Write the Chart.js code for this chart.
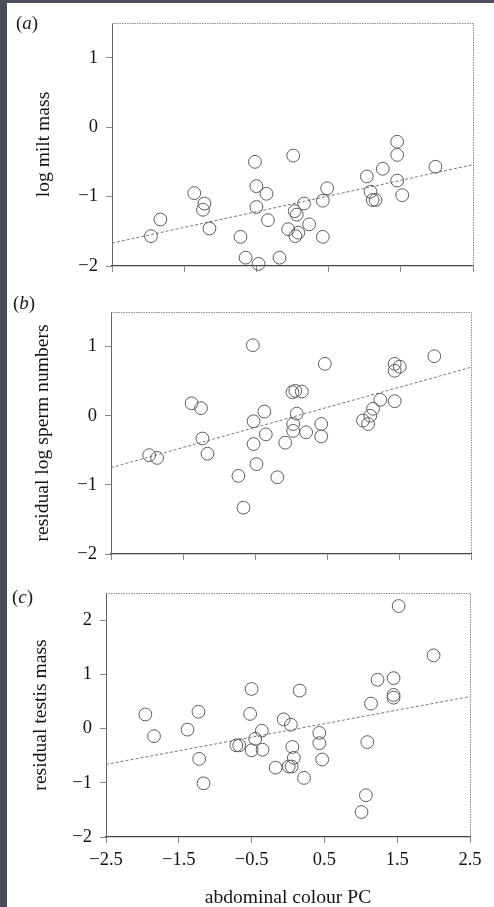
<!DOCTYPE html>
<html>
<head>
<meta charset="utf-8">
<script src="https://cdn.jsdelivr.net/npm/chart.js@4.4.1/dist/chart.umd.min.js"></script>
<style>
  html, body { margin: 0; padding: 0; width: 494px; height: 907px; overflow: hidden; background: #fff; }
  canvas { position: absolute; left: 0; }
  .tag { position: absolute; font: 19px "Liberation Serif", "Times New Roman", serif; line-height: 1; color: #1a1a1a; }
  .edge { position: absolute; background: #4a4e5c; }
</style>
</head>
<body>
<canvas id="panelA" width="494" height="290" style="top:0px"></canvas>
<canvas id="panelB" width="494" height="290" style="top:290px"></canvas>
<canvas id="panelC" width="494" height="330" style="top:580px"></canvas>

<div class="tag" style="left:16px;top:13px">(<i>a</i>)</div>
<div class="tag" style="left:13px;top:293px">(<i>b</i>)</div>
<div class="tag" style="left:12px;top:587px">(<i>c</i>)</div>

<div class="edge" style="left:0;top:0;width:7px;height:907px"></div>
<div class="edge" style="left:0;top:0;width:494px;height:3px"></div>

<script>
// (a) abdominal colour PC vs log milt mass
const colourPcA = [-1.96, -1.83, -1.36, -1.22, -1.24, -1.15, -0.72, -0.65, -0.52, -0.50, -0.36, -0.50,
                   -0.47, -0.34, -0.18, -0.06, 0.01, 0.03, 0.06, 0.04, 0.08, 0.16, 0.23, 0.42,
                   0.48, 0.42, 1.03, 1.08, 1.11, 1.15, 1.25, 1.45, 1.45, 1.45, 1.52, 1.98];
const logMiltMass = [-1.57, -1.33, -0.95, -1.10, -1.19, -1.46, -1.58, -1.88, -0.50, -0.85, -0.96, -1.15,
                     -1.97, -1.34, -1.88, -1.47, -0.41, -1.21, -1.26, -1.57, -1.52, -1.10, -1.40, -1.06,
                     -0.88, -1.58, -0.71, -0.93, -1.05, -1.05, -0.60, -0.21, -0.40, -0.77, -0.98, -0.57];

// (b) abdominal colour PC vs residual log sperm numbers
const colourPcB = [-1.97, -1.86, -1.38, -1.25, -1.23, -1.16, -0.73, -0.66, -0.53, -0.52, -0.52, -0.48,
                   -0.37, -0.35, -0.19, -0.08, 0.02, 0.06, 0.15, 0.08, 0.03, 0.03, 0.21, 0.42,
                   0.42, 0.47, 1.00, 1.07, 1.10, 1.14, 1.24, 1.44, 1.44, 1.51, 1.44, 1.99];
const residLogSperm = [-0.57, -0.61, 0.18, 0.11, -0.33, -0.55, -0.87, -1.33, 1.02, -0.08, -0.41, -0.70,
                       0.06, -0.27, -0.89, -0.39, 0.34, 0.36, 0.35, 0.03, -0.12, -0.22, -0.24, -0.12,
                       -0.30, 0.75, -0.07, -0.12, 0.00, 0.10, 0.23, 0.21, 0.75, 0.71, 0.65, 0.86];

// (c) abdominal colour PC vs residual testis mass
const colourPcC = [-1.96, -1.84, -1.38, -1.23, -1.22, -1.16, -0.71, -0.67, -0.50, -0.52, -0.50, -0.45,
                   -0.35, -0.36, -0.17, -0.06, 0.04, 0.06, 0.08, 0.01, 0.05, 0.16, 0.22, 0.43,
                   0.43, 0.47, 1.01, 1.07, 1.09, 1.14, 1.23, 1.45, 1.45, 1.45, 1.52, 2.00];
const residTestisMass = [0.26, -0.14, -0.02, 0.31, -0.56, -1.01, -0.31, -0.31, 0.73, 0.27, -0.40, -0.19,
                         -0.39, -0.04, -0.72, 0.17, 0.07, -0.34, -0.54, -0.70, -0.70, 0.70, -0.91, -0.08,
                         -0.27, -0.57, -1.54, -1.23, -0.25, 0.46, 0.90, 0.93, 0.62, 0.57, 2.26, 1.35];

// fitted regression lines, given at the two ends of the x range
const fitEndsX = [-2.5, 2.5];
const fitA = [-1.67, -0.54];
const fitB = [-0.75, 0.70];
const fitC = [-0.66, 0.59];

// tick labels
const xTickValues = [-2.5, -1.5, -0.5, 0.5, 1.5, 2.5];
const yTicksAB = [-2, -1, 0, 1];
const yTicksC = [-2, -1, 0, 1, 2];

const SERIF = '"Liberation Serif", "Times New Roman", serif';
const INK = '#141414';

function minusSign(v) {
  return (v < 0 ? '\u2212' : '') + String(Math.abs(v));
}
function xLabel(v) {
  return (v < 0 ? '\u2212' : '') + Math.abs(v).toFixed(1);
}

// dotted top and right edges of the plot box
const boxFrame = {
  id: 'boxFrame',
  beforeDatasetsDraw(chart) {
    const { ctx, chartArea: a } = chart;
    ctx.save();
    ctx.strokeStyle = '#8f8f8f';
    ctx.lineWidth = 1;
    ctx.setLineDash([1.5, 1]);
    ctx.beginPath();
    ctx.moveTo(a.left, Math.round(a.top) + 0.5);
    ctx.lineTo(Math.round(a.right) + 0.5, Math.round(a.top) + 0.5);
    ctx.lineTo(Math.round(a.right) + 0.5, a.bottom);
    ctx.stroke();
    ctx.restore();
  }
};

function makePanel(id, xs, ys, fit, yTicks, yMax, yTitle, g, showXLabels) {
  const points = xs.map((x, i) => ({ x: x, y: ys[i] }));
  const fitLine = fitEndsX.map((x, i) => ({ x: x, y: fit[i] }));
  return new Chart(document.getElementById(id), {
    type: 'scatter',
    data: {
      datasets: [
        {
          data: points,
          pointRadius: 6.4,
          pointHoverRadius: 6.4,
          pointBackgroundColor: 'rgba(0,0,0,0)',
          pointBorderColor: '#5c5c5c',
          pointBorderWidth: 1,
          clip: false,
          order: 1
        },
        {
          data: fitLine,
          showLine: true,
          borderColor: '#777',
          borderWidth: 1,
          borderDash: [3, 2],
          pointRadius: 0,
          fill: false,
          order: 2
        }
      ]
    },
    options: {
      responsive: false,
      animation: false,
      events: [],
      layout: { padding: { left: g.l, right: g.r, top: g.t, bottom: 0 } },
      plugins: { legend: { display: false }, tooltip: { enabled: false } },
      scales: {
        x: {
          type: 'linear',
          min: -2.5,
          max: 2.5,
          afterBuildTicks: s => { s.ticks = xTickValues.map(v => ({ value: v })); },
          afterFit: s => { s.height = g.xh; s.paddingLeft = 0; s.paddingRight = 0; s.paddingTop = 0; s.paddingBottom = 0; },
          grid: { drawOnChartArea: false, drawTicks: true, tickLength: 6, color: '#8a8a8a', lineWidth: 1 },
          border: { display: true, color: '#444', width: 1.3 },
          ticks: {
            display: showXLabels,
            padding: 6,
            autoSkip: false,
            maxRotation: 0,
            color: INK,
            font: { family: SERIF, size: 18.5 },
            callback: v => xLabel(v)
          },
          title: {
            display: showXLabels,
            text: 'abdominal colour PC',
            color: INK,
            font: { family: SERIF, size: 19.6 },
            padding: { top: 0, bottom: 0 }
          }
        },
        y: {
          type: 'linear',
          min: -2,
          max: yMax,
          afterBuildTicks: s => { s.ticks = yTicks.map(v => ({ value: v })); },
          afterFit: s => { s.width = g.yw; s.paddingTop = 0; s.paddingBottom = 0; s.paddingLeft = 0; s.paddingRight = 0; },
          grid: { drawOnChartArea: false, drawTicks: true, tickLength: 6, color: '#8a8a8a', lineWidth: 1 },
          border: { display: true, color: '#666', width: 1 },
          ticks: {
            padding: 8,
            autoSkip: false,
            color: INK,
            font: { family: SERIF, size: 18.5 },
            callback: v => minusSign(v)
          },
          title: {
            display: true,
            text: yTitle,
            color: INK,
            font: { family: SERIF, size: 19.6 },
            padding: { top: 0, bottom: 0 }
          }
        }
      }
    },
    plugins: [boxFrame]
  });
}

makePanel('panelA', colourPcA, logMiltMass, fitA, yTicksAB, 1.5, 'log milt mass',
          { l: 32, yw: 80, r: 21, t: 23, xh: 24 }, false);
makePanel('panelB', colourPcB, residLogSperm, fitB, yTicksAB, 1.5, 'residual log sperm numbers',
          { l: 31, yw: 80, r: 23, t: 22, xh: 26 }, false);
makePanel('panelC', colourPcC, residTestisMass, fitC, yTicksC, 2.5, 'residual testis mass',
          { l: 29, yw: 77, r: 24, t: 13, xh: 73 }, true);
</script>
</body>
</html>
